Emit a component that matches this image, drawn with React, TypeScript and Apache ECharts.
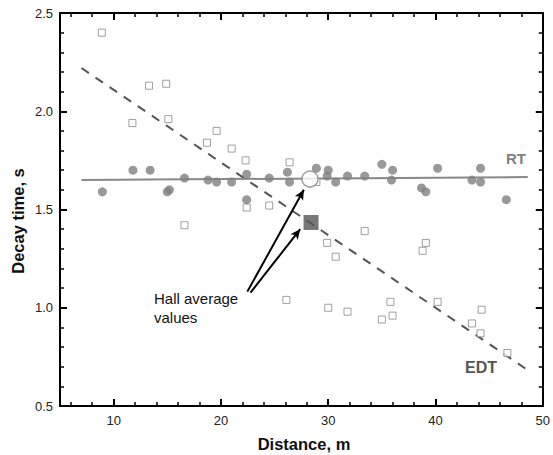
import React, { useEffect, useRef } from "react";
import * as echarts from "echarts";

// Measured EDT values (open squares): [distance m, decay time s]
const edtPoints: [number, number][] = [
  [8.9, 2.40], [11.75, 1.94], [13.3, 2.13], [14.9, 2.14], [15.1, 1.96],
  [16.6, 1.42], [18.7, 1.84], [19.6, 1.90], [21.0, 1.81], [22.3, 1.75],
  [22.4, 1.51], [24.5, 1.52], [26.4, 1.74], [28.9, 1.64], [26.1, 1.04],
  [29.9, 1.33], [30.0, 1.00], [30.7, 1.26], [31.8, 0.98], [33.4, 1.39],
  [35.0, 0.94], [35.8, 1.03], [36.0, 0.96], [38.8, 1.29], [39.1, 1.33],
  [40.2, 1.03], [43.4, 0.92], [44.3, 0.99], [44.2, 0.87], [46.7, 0.77],
];

// Measured RT values (filled circles)
const rtPoints: [number, number][] = [
  [8.95, 1.59], [11.8, 1.70], [13.4, 1.70], [15.0, 1.59], [15.2, 1.60],
  [16.6, 1.66], [18.8, 1.65], [19.6, 1.64], [21.0, 1.64], [22.4, 1.68],
  [22.4, 1.55], [24.5, 1.66], [26.2, 1.69], [26.4, 1.64], [28.9, 1.71],
  [30.0, 1.70], [29.9, 1.67], [30.7, 1.64], [31.8, 1.67], [33.4, 1.67],
  [35.0, 1.73], [36.0, 1.70], [35.9, 1.65], [38.7, 1.61], [39.1, 1.59],
  [40.2, 1.71], [43.4, 1.65], [44.2, 1.71], [44.2, 1.64], [46.6, 1.55],
];

// Linear fits
const rtFit: [number, number][] = [[7.0, 1.650], [48.6, 1.665]];
const edtFit: [number, number][] = [[7.0, 2.22], [48.4, 0.69]];

// Hall average values
const hallRT: [number, number][] = [[28.3, 1.655]];
const hallEDT: [number, number][] = [[28.4, 1.434]];

// Annotation arrows: [start, tip]
const arrowStarts: [number, number][] = [[22.46, 1.082], [22.76, 1.077]];
const arrowTips: [number, number][] = [[27.73, 1.60], [27.39, 1.40]];

// Axes
const xMin = 5;
const xMax = 50;
const xMajorTicks = [10, 20, 30, 40, 50];
const xMinorTicks = [6, 8, 12, 14, 16, 18, 22, 24, 26, 28, 32, 34, 36, 38, 42, 44, 46, 48];
const yMin = 0.5;
const yMax = 2.5;
const yInterval = 0.5;

const FONT = "'Liberation Sans', Arial, Helvetica, sans-serif";

export default function App() {
  const ref = useRef<HTMLDivElement>(null);

  useEffect(() => {
    if (!ref.current) return;
    const chart = echarts.init(ref.current, null, { renderer: "svg" });

    const axisLineStyle = { show: true, lineStyle: { color: "#000", width: 2 } };

    const xAxisBase = (position: "top" | "bottom", major: boolean, labels: boolean, line: boolean) => ({
      type: "value",
      position,
      min: xMin,
      max: xMax,
      offset: 0,
      axisLine: line ? axisLineStyle : { show: false },
      splitLine: { show: false },
      axisTick: {
        show: true,
        inside: true,
        length: major ? 7 : 4,
        customValues: major ? xMajorTicks : xMinorTicks,
        lineStyle: { color: "#000", width: major ? 2 : 1.5 },
      },
      axisLabel: labels
        ? { show: true, customValues: xMajorTicks, fontSize: 13, color: "#222", fontFamily: FONT, margin: 8 }
        : { show: false },
    });

    const yAxisBase = (position: "left" | "right", labels: boolean) => ({
      type: "value",
      position,
      min: yMin,
      max: yMax,
      interval: yInterval,
      axisLine: axisLineStyle,
      splitLine: { show: false },
      axisTick: { show: true, inside: true, length: 7, lineStyle: { color: "#000", width: 2 } },
      minorTick: { show: true, splitNumber: 5, length: 4, lineStyle: { color: "#000", width: 1.5 } },
      minorSplitLine: { show: false },
      axisLabel: labels
        ? {
            show: true,
            fontSize: 13,
            color: "#222",
            fontFamily: FONT,
            margin: 7,
            formatter: (v: number) => v.toFixed(1),
          }
        : { show: false },
    });

    const arrowData = arrowStarts.map((s, i) => [
      { coord: s, symbol: "none" },
      { coord: arrowTips[i], symbol: "arrow" },
    ]);

    chart.setOption({
      animation: false,
      grid: { left: 60, right: 6, top: 13, bottom: 49, containLabel: false },
      xAxis: [
        xAxisBase("bottom", true, true, true),
        xAxisBase("bottom", false, false, false),
        xAxisBase("top", true, false, true),
        xAxisBase("top", false, false, false),
      ],
      yAxis: [yAxisBase("left", true), yAxisBase("right", false)],
      series: [
        {
          name: "EDT fit",
          type: "line",
          data: edtFit,
          symbol: "none",
          lineStyle: { color: "#555", width: 2, type: [9, 8] },
          silent: true,
          z: 2,
        },
        {
          name: "RT fit",
          type: "line",
          data: rtFit,
          symbol: "none",
          lineStyle: { color: "#888", width: 2 },
          silent: true,
          z: 2,
        },
        {
          name: "EDT",
          type: "scatter",
          data: edtPoints,
          symbol: "rect",
          symbolSize: 7,
          itemStyle: { color: "#fff", borderColor: "#888", borderWidth: 1 },
          z: 3,
        },
        {
          name: "RT",
          type: "scatter",
          data: rtPoints,
          symbol: "circle",
          symbolSize: 9,
          itemStyle: { color: "#808080" },
          z: 4,
        },
        {
          name: "Hall RT",
          type: "scatter",
          data: hallRT,
          symbol: "circle",
          symbolSize: 16,
          itemStyle: { color: "#fff", borderColor: "#888", borderWidth: 1.5 },
          z: 5,
        },
        {
          name: "Hall EDT",
          type: "scatter",
          data: hallEDT,
          symbol: "rect",
          symbolSize: 15,
          itemStyle: { color: "#555" },
          z: 5,
          markLine: {
            silent: true,
            symbolSize: [7, 10],
            label: { show: false },
            lineStyle: { color: "#000", width: 2, type: "solid" },
            emphasis: { disabled: true },
            data: arrowData,
          },
        },
      ],
      graphic: [
        {
          type: "text",
          x: 154,
          y: 289,
          style: {
            text: "Hall average\nvalues",
            fontSize: 15,
            lineHeight: 19,
            fontFamily: FONT,
            fill: "#111",
            textVerticalAlign: "top",
            textAlign: "left",
          },
        },
        {
          type: "text",
          x: 516,
          y: 158,
          style: {
            text: "RT",
            fontSize: 15,
            fontWeight: "bold",
            fontFamily: FONT,
            fill: "#808080",
            textAlign: "center",
            textVerticalAlign: "middle",
          },
        },
        {
          type: "text",
          x: 481,
          y: 367,
          style: {
            text: "EDT",
            fontSize: 16,
            fontWeight: "bold",
            fontFamily: FONT,
            fill: "#555",
            textAlign: "center",
            textVerticalAlign: "middle",
          },
        },
        {
          type: "text",
          x: 304,
          y: 444,
          style: {
            text: "Distance, m",
            fontSize: 16.5,
            fontWeight: "bold",
            fontFamily: FONT,
            fill: "#111",
            textAlign: "center",
            textVerticalAlign: "middle",
          },
        },
        {
          type: "text",
          x: 18,
          y: 221,
          rotation: Math.PI / 2,
          style: {
            text: "Decay time, s",
            fontSize: 16.5,
            fontWeight: "bold",
            fontFamily: FONT,
            fill: "#111",
            textAlign: "center",
            textVerticalAlign: "middle",
          },
        },
      ],
    });

    return () => {
      chart.dispose();
    };
  }, []);

  return (
    <div
      ref={ref}
      style={{ position: "fixed", left: 0, top: 0, width: 553, height: 455, background: "#fff" }}
    />
  );
}
